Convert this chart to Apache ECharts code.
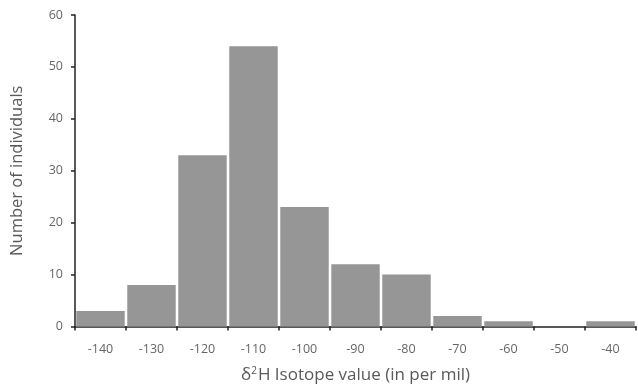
<!DOCTYPE html>
<html><head><meta charset="utf-8">
<script src="https://cdn.jsdelivr.net/npm/echarts@6/dist/echarts.min.js"></script>
<style>html,body{margin:0;padding:0;background:#fff}#c{width:638px;height:389px}</style>
</head><body><div id="c"></div>
<script>
var categories = ['-140','-130','-120','-110','-100','-90','-80','-70','-60','-50','-40'];
var counts = [3, 8, 33, 54, 23, 12, 10, 2, 1, 0, 1];
var yTicks = [0, 10, 20, 30, 40, 50, 60];

var chart = echarts.init(document.getElementById('c'));
chart.setOption({
  animation: false,
  grid: {left: 75, right: 2, top: 15, bottom: 59},
  xAxis: {
    type: 'category',
    data: categories,
    name: '{d|δ}{s|2}{n|H Isotope value (in per mil)}',
    nameLocation: 'middle',
    nameGap: 40,
    nameTextStyle: {
      rich: {
        d: {fontFamily: 'Open Sans', fontSize: 17, color: '#595959'},
        s: {fontFamily: 'Open Sans', fontSize: 10, color: '#595959', verticalAlign: 'top', padding: [0,1,8,0]},
        n: {fontFamily: 'Open Sans', fontSize: 17, color: '#595959'}
      }
    },
    axisLine: {lineStyle: {color: '#222', width: 1.5}},
    axisTick: {show: true, length: 4, lineStyle: {color: '#222', width: 1.5}},
    axisLabel: {color: '#666', fontFamily: 'Open Sans', fontSize: 12.5, margin: 16}
  },
  yAxis: {
    type: 'value',
    min: 0, max: 60, interval: 10,
    name: 'Number of individuals',
    nameLocation: 'middle',
    nameGap: 49,
    nameTextStyle: {color: '#595959', fontFamily: 'Open Sans', fontSize: 16.5},
    splitLine: {show: false},
    axisLine: {show: true, lineStyle: {color: '#222', width: 1.5}},
    axisTick: {show: true, length: 4, lineStyle: {color: '#222', width: 1.5}},
    axisLabel: {color: '#666', fontFamily: 'Open Sans', fontSize: 12.5, margin: 12,
      formatter: function(v){ return yTicks.indexOf(v) >= 0 ? String(v) : ''; }}
  },
  series: [{
    type: 'bar',
    data: counts,
    barCategoryGap: '5%',
    itemStyle: {color: '#969696'}
  }]
});
</script></body></html>
